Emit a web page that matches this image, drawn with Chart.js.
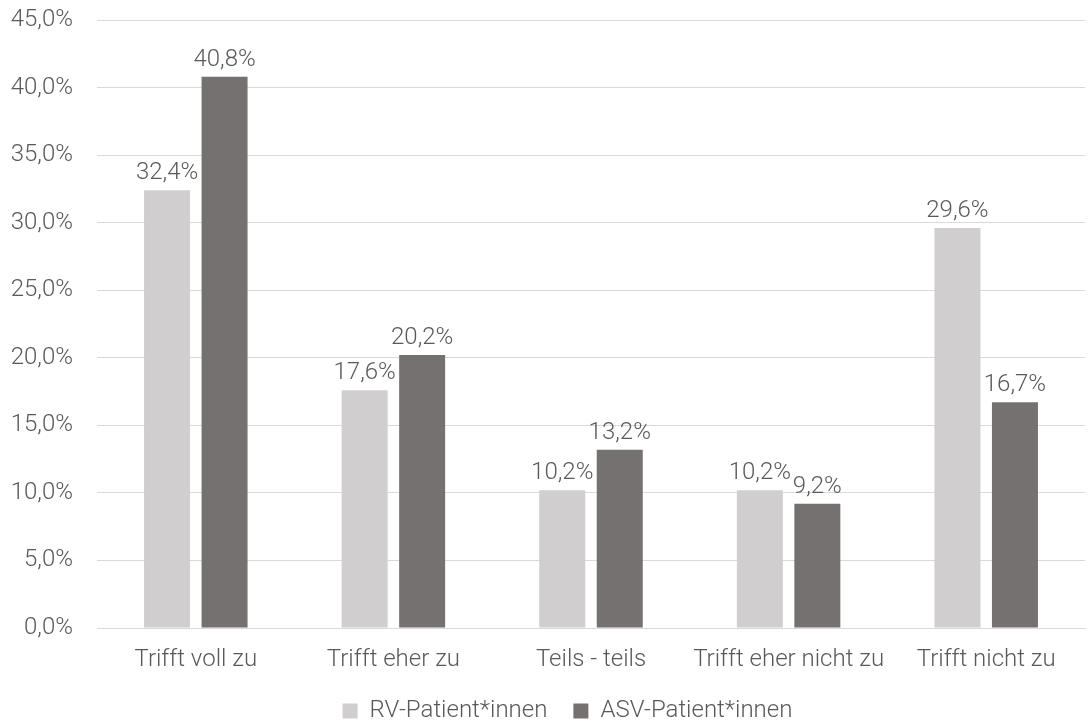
<!DOCTYPE html>
<html>
<head>
<meta charset="utf-8">
<script src="https://cdn.jsdelivr.net/npm/chart.js@4"></script>
<style>
  html, body { margin: 0; padding: 0; background: #fff; }
  #wrap { width: 1092px; height: 721px; }
</style>
</head>
<body>
<div id="wrap"><canvas id="chart" width="1092" height="721"></canvas></div>
<script>
const categories = ['Trifft voll zu', 'Trifft eher zu', 'Teils - teils', 'Trifft eher nicht zu', 'Trifft nicht zu'];
const rvValues = [32.4, 17.6, 10.2, 10.2, 29.6];
const asvValues = [40.8, 20.2, 13.2, 9.2, 16.7];
const seriesNames = ['RV-Patient*innen', 'ASV-Patient*innen'];

const textColor = '#595959';
const fontFamily = 'Roboto, "Noto Sans", sans-serif';
const fontSize = 24;
const tickFont = { family: fontFamily, size: fontSize, weight: 300 };

const fmt = v => v.toFixed(1).replace('.', ',') + '%';

// value labels above each bar
const barLabels = {
    id: 'barLabels',
    afterDatasetsDraw(chart) {
        const ctx = chart.ctx;
        ctx.save();
        ctx.font = '300 ' + fontSize + 'px ' + fontFamily;
        ctx.fillStyle = textColor;
        ctx.textAlign = 'center';
        ctx.textBaseline = 'alphabetic';
        chart.data.datasets.forEach((ds, i) => {
            chart.getDatasetMeta(i).data.forEach((bar, j) => {
                ctx.fillText(fmt(ds.data[j]), bar.x, bar.y - 11);
            });
        });
        ctx.restore();
    }
};

// fixed legend strip height, legend nudged a bit right of centre
const legendPlace = {
    id: 'legendPlace',
    beforeInit(chart) {
        const fit = chart.legend.fit;
        chart.legend.fit = function () {
            fit.call(this);
            this.height = 48;
        };
    },
    afterLayout(chart) {
        chart.legend.left += 20;
        chart.legend.right += 20;
    }
};

const ctx = document.getElementById('chart').getContext('2d');
new Chart(ctx, {
    type: 'bar',
    data: {
        labels: categories,
        datasets: [
            { label: seriesNames[0], data: rvValues, backgroundColor: '#d0cece' },
            { label: seriesNames[1], data: asvValues, backgroundColor: '#767171' },
        ],
    },
    options: {
        responsive: false,
        animation: false,
        layout: { padding: { top: 20, right: 7, left: 10, bottom: 0 } },
        datasets: {
            bar: { categoryPercentage: 0.582, barPercentage: 0.8 },
        },
        scales: {
            x: {
                afterFit: scale => { scale.height = 45; },
                grid: { display: false },
                border: { display: true, color: '#d9d9d9', width: 1 },
                ticks: { color: textColor, font: tickFont, padding: 10 },
            },
            y: {
                min: 0,
                max: 45,
                afterFit: scale => { scale.width = 87; },
                ticks: {
                    stepSize: 5,
                    color: textColor,
                    padding: 0,
                    font: tickFont,
                    callback: v => fmt(v),
                },
                grid: { color: '#d9d9d9', lineWidth: 1, drawTicks: true, tickLength: 24, tickColor: 'rgba(0,0,0,0)' },
                border: { display: false },
            },
        },
        plugins: {
            legend: {
                position: 'bottom',
                labels: {
                    color: textColor,
                    font: tickFont,
                    boxWidth: 15,
                    boxHeight: 15,
                    padding: 26,
                },
            },
            tooltip: { enabled: false },
        },
    },
    plugins: [barLabels, legendPlace],
});
</script>
</body>
</html>
